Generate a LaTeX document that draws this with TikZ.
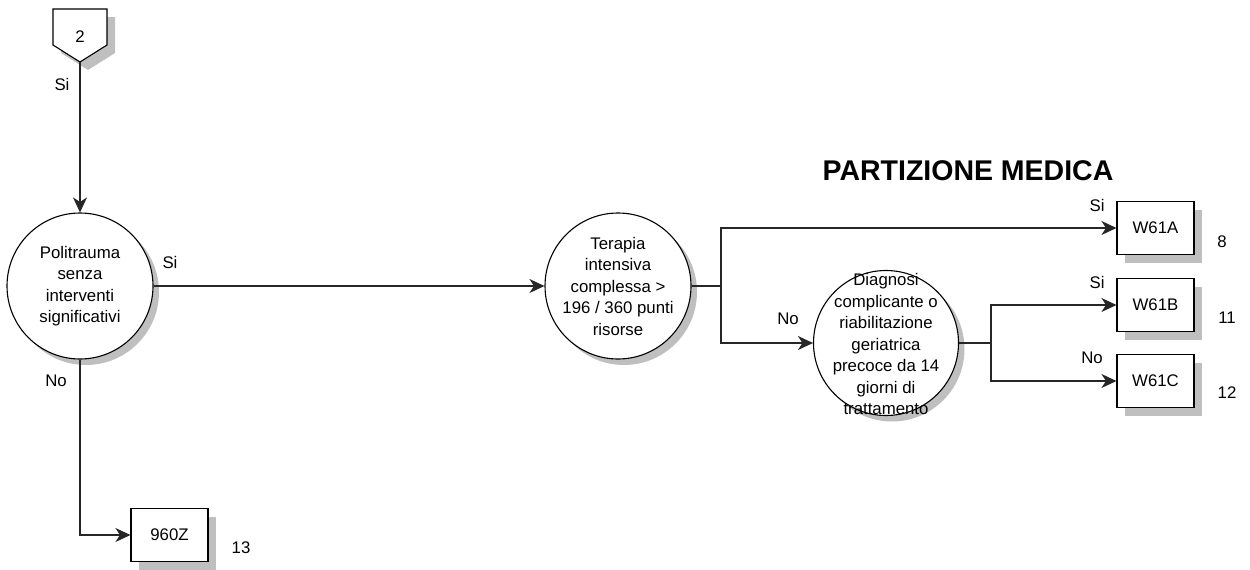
\documentclass[tikz,border=0pt]{standalone}
\usepackage{fontspec}
\setmainfont{Liberation Sans}
\usetikzlibrary{arrows.meta,shadows}
\tikzset{
  x=1pt,y=-1pt,
  every node/.style={font=\fontsize{16.8}{21.5}\selectfont},
  line/.style={line width=1.2pt,draw=black!85},
  arr/.style={line, -{Stealth[length=15pt,width=14pt,inset=4.5pt]}},
  shad/.style={drop shadow={shadow xshift=6pt,shadow yshift=-6pt,fill=black!25,opacity=1}},
  dec/.style={circle,draw,line width=1.1pt,fill=white,minimum size=146pt,inner sep=0pt,shad},
  ctext/.style={align=center,inner sep=0pt},
  leaf/.style={rectangle,draw,line width=1.1pt,fill=white,minimum width=77pt,minimum height=53pt,inner sep=0pt,
    drop shadow={shadow xshift=8pt,shadow yshift=-8pt,fill=black!25,opacity=1}},
  lab/.style={inner sep=0pt},
}
\begin{document}
\begin{tikzpicture}
\useasboundingbox (0,0) rectangle (1250,570);
% off-page connector "2"
\fill[black!25] (61,17) -- (115,17) -- (115,53) -- (88,70) -- (61,53) -- cycle;
\draw[line width=1.1pt,fill=white] (53,9) -- (107,9) -- (107,45) -- (80,62) -- (53,45) -- cycle;
\node[lab] (n2) at (80,37) {2};
\coordinate (p2tip) at (80,62);
% decisions
\node[dec] (c1) at (80,286) {};
\node[ctext] (c1t) at (c1) {Politrauma\\senza\\interventi\\significativi};
\node[dec] (c2) at (618,286) {};
\node[ctext] (c2t) at (c2) {Terapia\\intensiva\\complessa >\\196 / 360 punti\\risorse};
\node[dec,minimum size=145pt] (c3) at (886,343) {};
\node[ctext] (c3t) at (886,344) {Diagnosi\\complicante o\\riabilitazione\\geriatrica\\precoce da 14\\giorni di\\trattamento};
% leaves
\node[leaf] (wa) at (1155.5,228) {W61A};
\node[leaf] (wb) at (1155.5,305) {W61B};
\node[leaf] (wc) at (1155.5,381) {W61C};
\node[leaf] (z) at (169.5,535) {960Z};
% title
\node[inner sep=0pt,anchor=base,font=\fontsize{28.5}{30}\selectfont\bfseries] (title) at (968,180) {PARTIZIONE MEDICA};
% junctions
\coordinate (j1) at (721,286);
\coordinate (j2) at (991,343);
% connectors
\draw[arr] (p2tip) -- (c1);
\draw[arr] (c1) -- (c2);
\draw[arr] (c1.south) |- (z.west);
\draw[line] (c2.east) -- (j1);
\draw[arr] (j1) |- (wa.west);
\draw[arr] (j1) |- (c3.west);
\draw[line] (c3.east) -- (j2);
\draw[arr] (j2) |- (wb.west);
\draw[arr] (j2) |- (wc.west);
% labels
\node[lab] (l1) at (62,84) {Si};
\node[lab] (l2) at (170,262) {Si};
\node[lab] (l3) at (56,381) {No};
\node[lab] (l4) at (788,319) {No};
\node[lab] (l5) at (1097,205) {Si};
\node[lab] (l6) at (1097,282) {Si};
\node[lab] (l7) at (1092,358) {No};
\node[lab] (n8) at (1222,242) {8};
\node[lab] (n11) at (1227,318) {11};
\node[lab] (n12) at (1227,393) {12};
\node[lab] (n13) at (241,548) {13};
\end{tikzpicture}
\end{document}
